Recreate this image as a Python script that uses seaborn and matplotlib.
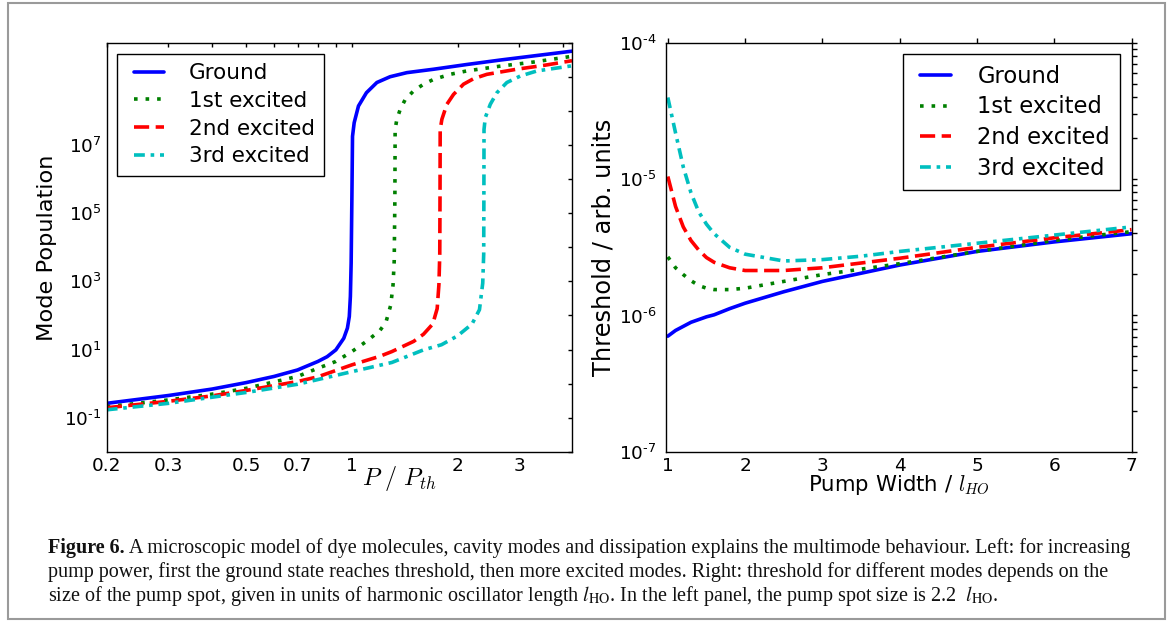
import numpy as np
import matplotlib
matplotlib.use("Agg")
import matplotlib.pyplot as plt
import matplotlib.ticker as mticker
from matplotlib.patches import Rectangle
import seaborn as sns

# ---------------- data ----------------
series_names = ["Ground", "1st excited", "2nd excited", "3rd excited"]

# Left panel: P / P_th  vs  log10(mode population)
ground_x = [0.2, 0.3, 0.4, 0.5, 0.6, 0.7, 0.8, 0.85, 0.9, 0.948, 0.971, 0.983, 0.99, 0.995, 1.0,
            1.004, 1.015, 1.044, 1.10, 1.178, 1.285, 1.435, 1.71, 2.13, 2.65, 3.29, 4.24]
ground_ly = [-0.58, -0.35, -0.16, 0.03, 0.21, 0.40, 0.65, 0.79, 0.99, 1.33, 1.63, 1.97, 2.56, 3.54, 5.5,
             7.26, 7.66, 8.15, 8.54, 8.84, 9.01, 9.13, 9.23, 9.37, 9.50, 9.62, 9.76]

first_x = [0.2, 0.3, 0.4, 0.5, 0.7, 0.8, 0.9, 1.0, 1.1, 1.2, 1.25, 1.29, 1.31, 1.32, 1.326,
           1.328, 1.343, 1.373, 1.419, 1.498, 1.6, 1.708, 1.905, 2.126, 2.645, 3.29, 4.24]
first_ly = [-0.68, -0.48, -0.31, -0.14, 0.21, 0.45, 0.65, 0.94, 1.24, 1.55, 1.8, 2.3, 2.9, 3.6, 5.5,
            7.46, 7.76, 8.05, 8.34, 8.59, 8.79, 8.93, 9.08, 9.18, 9.32, 9.44, 9.61]

second_x = [0.2, 0.3, 0.4, 0.5, 0.7, 0.8, 1.0, 1.2, 1.3, 1.5, 1.6, 1.7, 1.75, 1.77, 1.78, 1.783,
            1.785, 1.805, 1.865, 1.948, 2.08, 2.22, 2.425, 2.95, 3.51, 4.24]
second_ly = [-0.71, -0.52, -0.36, -0.20, 0.06, 0.20, 0.55, 0.80, 0.94, 1.24, 1.45, 1.75, 2.2, 2.9, 3.8, 5.5,
             7.46, 7.76, 8.2, 8.49, 8.79, 8.95, 9.08, 9.23, 9.34, 9.48]

third_x = [0.2, 0.3, 0.5, 0.7, 1.0, 1.3, 1.6, 1.8, 2.0, 2.2, 2.31, 2.36, 2.375, 2.378,
           2.38, 2.40, 2.48, 2.59, 2.765, 3.02, 3.37, 3.75, 4.24]
third_ly = [-0.77, -0.58, -0.26, -0.02, 0.35, 0.62, 0.99, 1.14, 1.40, 1.75, 2.17, 2.95, 3.8, 5.5,
            7.46, 7.81, 8.2, 8.54, 8.84, 9.03, 9.18, 9.25, 9.33]

# Right panel: pump width / l_HO  vs  log10(threshold)
width_x = [1.0, 1.1, 1.2, 1.3, 1.4, 1.5, 1.6, 1.8, 2.0, 2.5, 3.0, 3.5, 4.0, 4.5, 5.0, 5.5, 6.0, 6.5, 7.0]
thr_ground = [-6.152, -6.11, -6.08, -6.05, -6.03, -6.01, -5.995, -5.95, -5.91, -5.826, -5.75, -5.69,
              -5.63, -5.58, -5.53, -5.495, -5.46, -5.43, -5.40]
thr_first = [-5.57, -5.65, -5.70, -5.745, -5.78, -5.80, -5.81, -5.81, -5.80, -5.75, -5.70, -5.66,
             -5.62, -5.575, -5.53, -5.49, -5.45, -5.415, -5.385]
thr_second = [-4.98, -5.20, -5.35, -5.45, -5.52, -5.575, -5.61, -5.65, -5.67, -5.67, -5.65, -5.615,
              -5.58, -5.54, -5.50, -5.465, -5.43, -5.40, -5.37]
thr_third = [-4.40, -4.66, -4.91, -5.10, -5.24, -5.33, -5.40, -5.50, -5.55, -5.60, -5.59, -5.565,
             -5.53, -5.50, -5.47, -5.44, -5.41, -5.38, -5.35]

left_xticks = [0.2, 0.3, 0.4, 0.5, 0.6, 0.7, 0.8, 0.9, 1, 2, 3, 4]
left_xticklabels = ["0.2", "0.3", "", "0.5", "", "0.7", "", "", "1", "2", "3", ""]
left_yexp = list(range(-2, 11))
left_ylabeled = [-1, 1, 3, 5, 7]
right_xticks = [1, 2, 3, 4, 5, 6, 7]
right_yexp = [-7, -6, -5, -4]

caption_bold = "Figure 6."
caption_line1 = (" A microscopic model of dye molecules, cavity modes and dissipation explains the "
                 "multimode behaviour. Left: for increasing")
caption_line2 = ("pump power, first the ground state reaches threshold, then more excited modes. "
                 "Right: threshold for different modes depends on the")
caption_line3 = (r"size of the pump spot, given in units of harmonic oscillator length $l_{\mathrm{HO}}$. "
                 r"In the left panel, the pump spot size is 2.2 $\ l_{\mathrm{HO}}$.")


def pow_label(e):
    # exponent written with a short hyphen, as in the reference
    s = str(abs(e))
    if e < 0:
        s = "\u2010" + s
    return r"$\mathdefault{10^{%s}}$" % s


# ---------------- style ----------------
sns.set_theme(style="white")
plt.rcParams["font.family"] = ["DejaVu Sans"]
plt.rcParams["mathtext.fontset"] = "cm"
plt.rcParams["axes.edgecolor"] = "black"
plt.rcParams["axes.linewidth"] = 1.0
plt.rcParams["xtick.color"] = "black"
plt.rcParams["ytick.color"] = "black"
plt.rcParams["text.color"] = "black"
plt.rcParams["axes.labelcolor"] = "black"

colors = ["#0000ff", "#008000", "#ff0000", "#00bfbf"]
dash_styles = ["-", (0, (1.0, 2.2)), (0, (4.2, 1.8)), (0, (3.0, 1.6, 1.0, 1.6))]
LW = 2.6

fig = plt.figure(figsize=(11.69, 6.21), dpi=100)
fig.patch.set_facecolor("white")

W, H = 1169.0, 621.0
def ax_rect(x0, y0, x1, y1):
    return [x0 / W, 1 - y1 / H, (x1 - x0) / W, (y1 - y0) / H]

axL = fig.add_axes(ax_rect(106.7, 43.0, 572.0, 451.7))
axR = fig.add_axes(ax_rect(665.5, 43.0, 1131.5, 451.7))

# ---------------- left panel ----------------
left_data = [(ground_x, ground_ly), (first_x, first_ly), (second_x, second_ly), (third_x, third_ly)]
for (xs, lys), name, c, ls in zip(left_data, series_names, colors, dash_styles):
    sns.lineplot(x=np.array(xs), y=np.power(10.0, np.array(lys)), ax=axL, color=c, linestyle=ls,
                 linewidth=LW, label=name, estimator=None, sort=False, legend=False)
axL.set_xscale("log")
axL.set_yscale("log")
axL.set_xlim(0.2, 4.24)
axL.set_ylim(1e-2, 1e10)
axL.xaxis.set_major_locator(mticker.FixedLocator(left_xticks))
axL.xaxis.set_major_formatter(mticker.FixedFormatter(left_xticklabels))
axL.xaxis.set_minor_locator(mticker.NullLocator())
yt = [10.0 ** e for e in left_yexp]
ylabs = [pow_label(e) if e in left_ylabeled else "" for e in left_yexp]
axL.yaxis.set_major_locator(mticker.FixedLocator(yt))
axL.yaxis.set_major_formatter(mticker.FixedFormatter(ylabs))
axL.yaxis.set_minor_locator(mticker.NullLocator())
axL.tick_params(which="both", direction="in", top=True, right=True, length=2.6, width=1.0,
                labelsize=13.3)
axL.tick_params(axis="x", pad=4)
axL.tick_params(axis="y", pad=3.5)
axL.set_ylabel("Mode Population", fontsize=16.2)
axL.yaxis.set_label_coords(-0.107, 0.5)
axL.set_xlabel(r"$P\ /\ P_{th}$", fontsize=17.5)
axL.xaxis.set_label_coords(0.63, -0.030)
legL = axL.legend(loc="upper left", fontsize=15.5, numpoints=2, handlelength=2.0, handletextpad=0.85,
                  borderpad=0.45, labelspacing=0.35, borderaxespad=0.5, fancybox=False,
                  framealpha=1.0, edgecolor="black")
legL.get_frame().set_linewidth(1.0)

# ---------------- right panel ----------------
right_data = [thr_ground, thr_first, thr_second, thr_third]
for lys, name, c, ls in zip(right_data, series_names, colors, dash_styles):
    sns.lineplot(x=np.array(width_x), y=np.power(10.0, np.array(lys)), ax=axR, color=c, linestyle=ls,
                 linewidth=LW, label=name, estimator=None, sort=False, legend=False)
axR.set_yscale("log")
axR.set_xlim(0.97, 7.0)
axR.set_ylim(1e-7, 1e-4)
axR.set_xticks(right_xticks)
axR.xaxis.set_major_formatter(mticker.FormatStrFormatter("%d"))
axR.yaxis.set_major_locator(mticker.FixedLocator([10.0 ** e for e in right_yexp]))
axR.yaxis.set_major_formatter(mticker.FixedFormatter([pow_label(e) for e in right_yexp]))
axR.yaxis.set_minor_locator(mticker.LogLocator(base=10.0, subs=np.arange(2, 10)))
axR.yaxis.set_minor_formatter(mticker.NullFormatter())
axR.tick_params(which="both", direction="out", top=True, right=True, length=3.6, width=1.0,
                labelsize=13.3)
axR.tick_params(axis="x", pad=0.5)
axR.tick_params(axis="y", pad=3.0)
axR.set_ylabel("Threshold / arb. units", fontsize=17.4)
axR.yaxis.set_label_coords(-0.108, 0.5)
axR.set_xlabel(r"Pump Width / $l_{HO}$", fontsize=15.3)
axR.xaxis.set_label_coords(0.5, -0.054)
legR = axR.legend(loc="upper right", fontsize=16.3, numpoints=2, handlelength=2.0, handletextpad=0.85,
                  borderpad=0.45, labelspacing=0.35, borderaxespad=0.5, fancybox=False,
                  framealpha=1.0, edgecolor="black")
legR.get_frame().set_linewidth(1.0)

for ax in (axL, axR):
    for sp in ax.spines.values():
        sp.set_color("black")
        sp.set_linewidth(1.0)

# ---------------- frame and caption ----------------
fig.patches.append(Rectangle((8 / W, 2 / H), (1165 - 8) / W, (619 - 3) / H, transform=fig.transFigure,
                             fill=False, edgecolor="#9a9a9a", linewidth=1.5, zorder=0))

cap_font = dict(family=["Liberation Serif"], fontsize=14.5, color="#111111", va="baseline", ha="left")
x0 = 48 / W
tb = fig.text(x0, 1 - 553 / H, caption_bold, fontweight="bold", **cap_font)
fig.canvas.draw()
r = fig.canvas.get_renderer()
bb = tb.get_window_extent(renderer=r)
fig.text(bb.x1 / W, 1 - 553 / H, caption_line1, **cap_font)
fig.text(x0, 1 - 577 / H, caption_line2, **cap_font)
fig.text(x0, 1 - 601 / H, caption_line3, math_fontfamily="stix", **cap_font)

fig.savefig("out.png", dpi=100)
